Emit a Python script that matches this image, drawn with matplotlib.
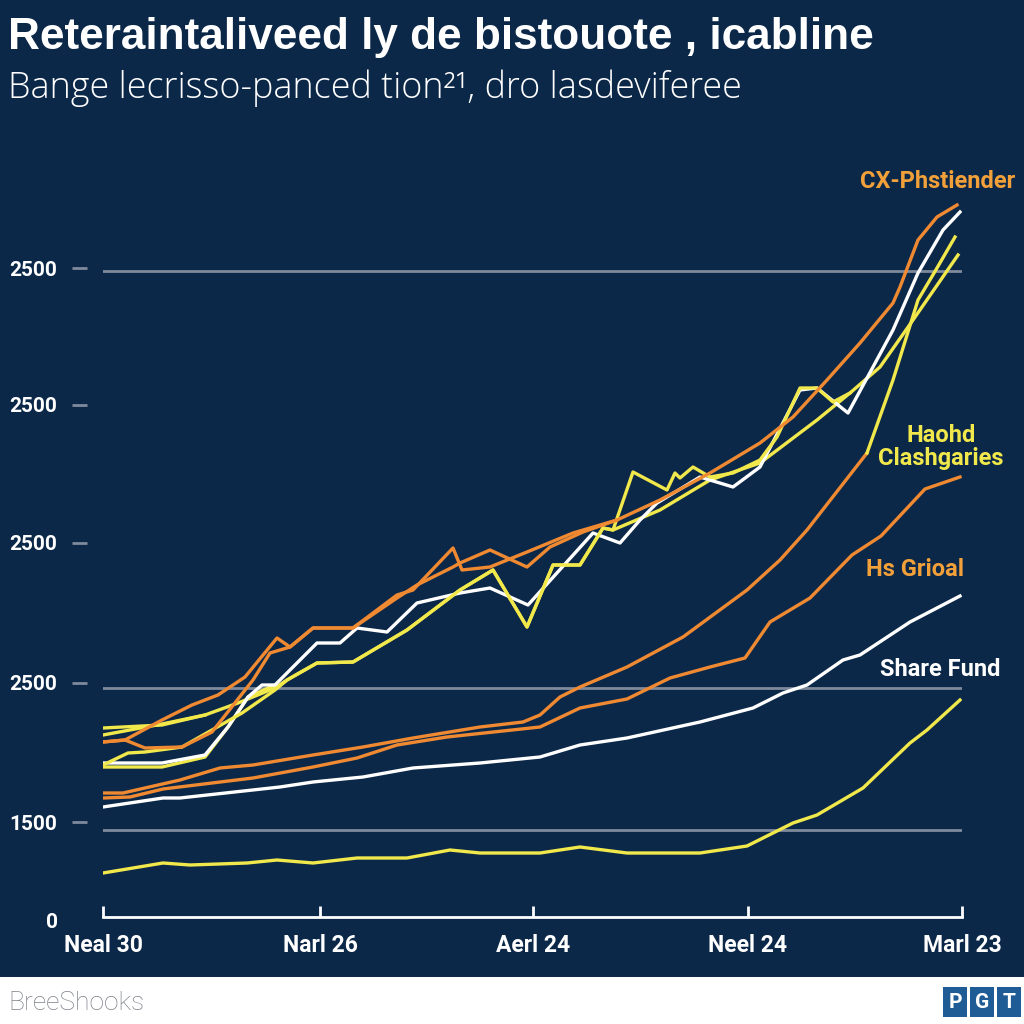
import matplotlib
matplotlib.use("Agg")
import matplotlib.pyplot as plt
import matplotlib.transforms as mtransforms
from matplotlib.patches import Rectangle

NAVY = "#0c2849"
ORANGE = "#f08a32"
YELLOW = "#f1e84c"
WHITE = "#ffffff"
GRID = "#7f8a9c"

title = "Reteraintaliveed ly de bistouote , icabline"
subtitle = "Bange lecrisso-panced tion\u00b2\u00b9, dro lasdeviferee"
source = "BreeShooks"

# x = days from start, y = index value
xtick_pos = [0, 217, 430, 645, 859]
xtick_labels = ["Neal 30", "Narl 26", "Aerl 24", "Neel 24", "Marl 23"]
ytick_pos = [500, 1195, 1895, 2585, 3270]
ytick_labels = ["1500", "2500", "2500", "2500", "2500"]
grid_levels = [460, 1170, 3255]

# bottom yellow
yb_x = [0, 60, 87, 144, 174, 210, 254, 304, 347, 377, 437, 477, 524, 597, 644, 690, 714, 760, 807, 824, 857]
yb_y = [245, 295, 285, 295, 310, 295, 320, 320, 360, 345, 345, 375, 345, 345, 380, 495, 535, 670, 895, 960, 1110]

# Share Fund
share_x = [0, 60, 77, 177, 210, 260, 310, 377, 437, 477, 524, 597, 650, 680, 704, 740, 757, 807, 857]
share_y = [575, 620, 620, 675, 700, 725, 770, 795, 825, 885, 920, 1000, 1070, 1145, 1185, 1310, 1335, 1500, 1630]

# Hs Grioal
grioal_x = [0, 27, 60, 150, 210, 254, 294, 344, 437, 477, 524, 567, 607, 642, 667, 707, 749, 778, 822, 857]
grioal_y = [620, 625, 665, 720, 775, 820, 885, 925, 975, 1070, 1115, 1220, 1275, 1320, 1500, 1620, 1835, 1930, 2165, 2225]

# orange that turns into the steep yellow (Haohd Clashgaries)
omid_x = [0, 20, 77, 117, 150, 210, 260, 310, 377, 420, 437, 457, 477, 524, 580, 644, 677, 704, 764]
omid_y = [645, 645, 710, 770, 785, 835, 875, 920, 975, 1000, 1035, 1125, 1175, 1275, 1425, 1660, 1810, 1960, 2345]
ysteep_x = [764, 790, 815, 834, 852]
ysteep_y = [2345, 2710, 3110, 3270, 3425]

# CX-Phstiender (top orange) and its twin
otop_x = [0, 22, 59, 89, 115, 142, 174, 187, 210, 250, 294, 310, 350, 359, 387, 424, 470, 514,
          557, 607, 657, 690, 724, 757, 790, 797, 815, 834, 854]
otop_y = [900, 910, 1010, 1085, 1135, 1225, 1420, 1375, 1470, 1470, 1635, 1660, 1870, 1760, 1775, 1850, 1945, 2010,
          2110, 2245, 2395, 2525, 2710, 2895, 3095, 3175, 3410, 3525, 3585]
otwin_x = [0, 22, 42, 79, 109, 150, 167, 187, 210, 250, 294, 314, 350, 357, 387, 424, 447, 480, 514]
otwin_y = [900, 910, 870, 875, 950, 1210, 1345, 1375, 1470, 1470, 1620, 1685, 1775, 1795, 1860, 1775, 1875, 1950, 2010]

# upper white
wtop_x = [0, 59, 102, 125, 145, 159, 172, 214, 237, 254, 284, 314, 357, 387, 425, 490, 517, 537, 554,
          597, 630, 657, 697, 714, 745, 770, 790, 815, 840, 857]
wtop_y = [795, 795, 835, 975, 1125, 1185, 1185, 1395, 1395, 1470, 1450, 1595, 1645, 1670, 1585, 1945, 1895, 2010, 2095,
          2225, 2175, 2275, 2660, 2670, 2545, 2775, 2960, 3245, 3460, 3550]

# upper yellows
yspiky_x = [0, 25, 42, 79, 109, 139, 172, 184, 214, 250, 304, 357, 390, 424, 450, 477, 500, 510, 530,
            564, 572, 577, 590, 607, 630, 657, 674, 697, 714, 730, 747]
yspiky_y = [785, 845, 850, 875, 960, 1045, 1160, 1210, 1295, 1300, 1460, 1660, 1760, 1475, 1785, 1785, 1970, 1960, 2250,
            2160, 2245, 2220, 2275, 2225, 2245, 2310, 2425, 2670, 2670, 2600, 2645]
ysmooth_x = [0, 59, 102, 135, 172, 184, 214, 250, 304, 357, 390, 424, 450, 477, 500, 510,
             557, 607, 657, 714, 747, 777, 810, 855]
ysmooth_y = [970, 985, 1035, 1095, 1170, 1210, 1295, 1300, 1460, 1660, 1760, 1475, 1785, 1785, 1970, 1960,
             2060, 2210, 2295, 2510, 2645, 2775, 3010, 3335]
ymid_x = [0, 59, 102]
ymid_y = [935, 990, 1035]
yfollow_x = [0, 59, 102, 125, 145, 172]
yfollow_y = [775, 775, 825, 975, 1125, 1185]

fig = plt.figure(figsize=(10.24, 10.24), dpi=100, facecolor=NAVY)
ax = fig.add_axes([103 / 1024, 107 / 1024, 859 / 1024, 757 / 1024])
ax.set_facecolor(NAVY)
ax.set_xlim(0, 859)
ax.set_ylim(25, 3810)

for s in ["top", "right", "left"]:
    ax.spines[s].set_visible(False)
ax.spines["bottom"].set_color(WHITE)
ax.spines["bottom"].set_linewidth(2.0)

for g in grid_levels:
    ax.axhline(g, color=GRID, lw=2.0, zorder=1)

lw = 2.4
ax.plot(yb_x, yb_y, color=YELLOW, lw=lw, zorder=3)
ax.plot(share_x, share_y, color=WHITE, lw=lw, zorder=3)
ax.plot(grioal_x, grioal_y, color=ORANGE, lw=lw, zorder=3)
ax.plot(omid_x, omid_y, color=ORANGE, lw=lw, zorder=3)
ax.plot(ysteep_x, ysteep_y, color=YELLOW, lw=lw, zorder=3)
ax.plot(ymid_x, ymid_y, color=YELLOW, lw=lw, zorder=3)
ax.plot(yfollow_x, yfollow_y, color=YELLOW, lw=lw, zorder=3)
ax.plot(ysmooth_x, ysmooth_y, color=YELLOW, lw=lw, zorder=3)
ax.plot(wtop_x, wtop_y, color=WHITE, lw=lw, zorder=4)
ax.plot(yspiky_x, yspiky_y, color=YELLOW, lw=lw, zorder=4)
ax.plot(otwin_x, otwin_y, color=ORANGE, lw=lw, zorder=5)
ax.plot(otop_x, otop_y, color=ORANGE, lw=lw, zorder=5)

# x axis
ax.set_xticks(xtick_pos, xtick_labels)
ax.tick_params(axis="x", direction="in", length=8, width=2, color=WHITE, pad=12,
               labelcolor=WHITE, labelsize=16.5)
for t in ax.get_xticklabels():
    t.set_fontweight("bold")
    t.set_family("Roboto")

# y axis, ticks drawn as detached dashes
ax.set_yticks(ytick_pos, ytick_labels)
ax.tick_params(axis="y", length=0, pad=33, labelcolor=WHITE, labelsize=15)
for t in ax.get_yticklabels():
    t.set_fontweight("bold")
    t.set_family("Roboto")
trans = mtransforms.blended_transform_factory(ax.transAxes, ax.transData)
for v in ytick_pos:
    ax.plot([-0.036, -0.019], [v, v], transform=trans, color=GRID, lw=2, clip_on=False,
            solid_capstyle="butt")
ax.text(-0.052, 0, "0", transform=trans, ha="right", va="center", color=WHITE,
        fontsize=15, fontweight="bold", family="Roboto")

# series labels
lab = dict(fontsize=17, fontweight="bold", family="Roboto", ha="center", va="center")
ax.text(835, 3705, "CX-Phstiender", color="#f2a03a", **lab)
ax.text(838, 2375, "Haohd\nClashgaries", color=YELLOW, linespacing=1.05, **lab)
ax.text(812, 1765, "Hs Grioal", color="#f2a03a", **lab)
ax.text(837, 1260, "Share Fund", color=WHITE, **lab)

# titles
fig.text(8 / 1024, 1 - 37 / 1024, title, color=WHITE, fontsize=31.8, fontweight="bold",
         family="Liberation Sans", va="center", ha="left")
fig.text(8 / 1024, 1 - 88 / 1024, subtitle, color=WHITE, fontsize=25.8, fontweight="light",
         family="Open Sans", va="center", ha="left")

# footer
fig.add_artist(Rectangle((0, 0), 1, 47 / 1024, transform=fig.transFigure,
                         facecolor=WHITE, edgecolor="none", zorder=0))
fig.text(8 / 1024, 21 / 1024, source, color="#7b8088", fontsize=19, fontweight="light",
         family="Roboto", va="center", ha="left")
for i, letter in enumerate(["P", "G", "T"]):
    x0 = (943 + i * 27) / 1024
    fig.add_artist(Rectangle((x0, 7 / 1024), 24 / 1024, 30 / 1024, transform=fig.transFigure,
                             facecolor="#1f5c96", edgecolor="none"))
    fig.text(x0 + 12 / 1024, 22 / 1024, letter, color=WHITE, fontsize=15, fontweight="bold",
             family="Roboto", ha="center", va="center")

fig.savefig("out.png", dpi=100, facecolor=NAVY)
